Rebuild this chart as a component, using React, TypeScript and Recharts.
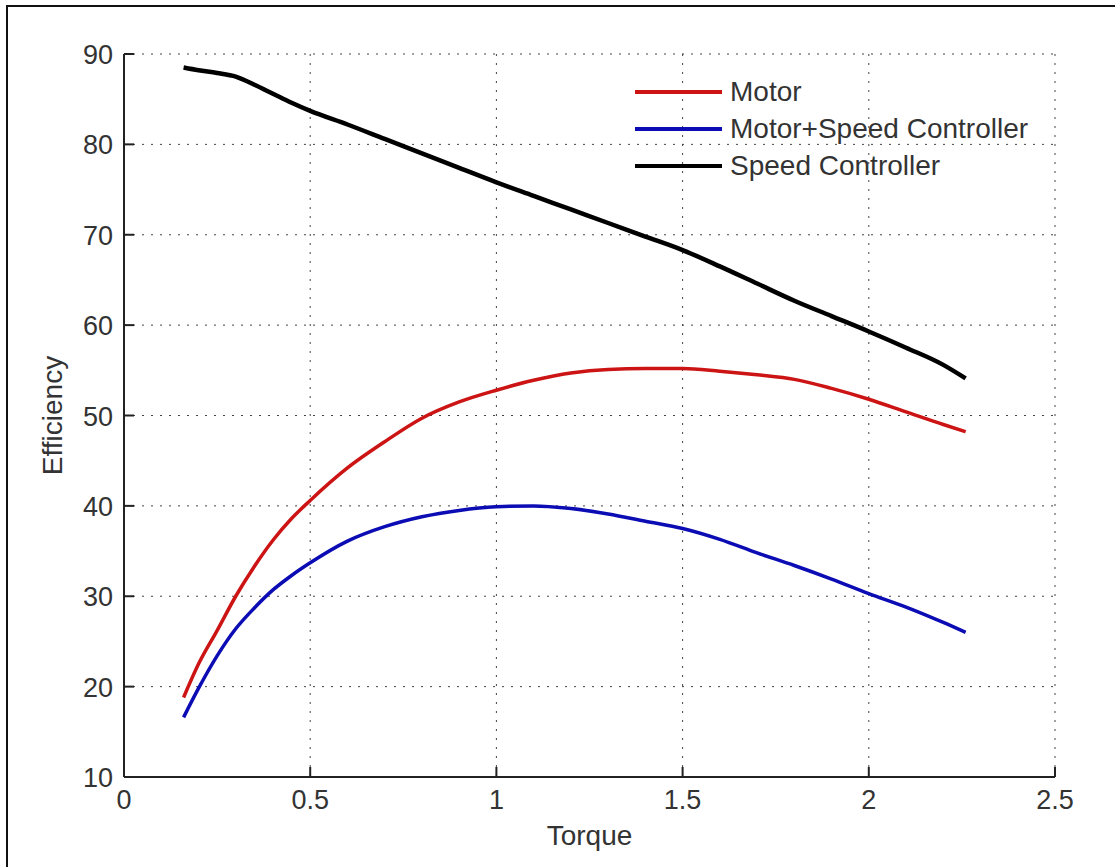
import { LineChart, Line, XAxis, YAxis, CartesianGrid } from 'recharts'

const torque = [
  0.16, 0.2, 0.25, 0.3, 0.35, 0.4, 0.45, 0.5, 0.6, 0.7, 0.8, 0.9, 1.0,
  1.1, 1.2, 1.3, 1.4, 1.5, 1.6, 1.7, 1.8, 1.9, 2.0, 2.1, 2.2, 2.26,
]

const motor = [
  18.8, 22.5, 26.2, 30.0, 33.3, 36.2, 38.6, 40.6, 44.2, 47.1, 49.7, 51.5, 52.8,
  53.9, 54.7, 55.1, 55.2, 55.2, 54.9, 54.5, 54.0, 53.0, 51.8, 50.4, 49.0, 48.2,
]

const motorSpeed = [
  16.6, 19.8, 23.4, 26.4, 28.7, 30.7, 32.3, 33.7, 36.1, 37.7, 38.8, 39.5, 39.9,
  40.0, 39.7, 39.1, 38.3, 37.5, 36.3, 34.8, 33.4, 31.9, 30.3, 28.8, 27.1, 26.0,
]

const speedController = [
  88.5, 88.2, 87.9, 87.5, 86.6, 85.6, 84.6, 83.7, 82.2, 80.6, 79.0, 77.4, 75.8,
  74.3, 72.8, 71.3, 69.8, 68.3, 66.5, 64.6, 62.7, 61.0, 59.3, 57.5, 55.6, 54.1,
]

const xTicks = [0, 0.5, 1, 1.5, 2, 2.5]
const yTicks = [10, 20, 30, 40, 50, 60, 70, 80, 90]

const series = [
  { key: 'motor', name: 'Motor', color: '#cc1414', width: 3.5 },
  { key: 'motorSpeed', name: 'Motor+Speed Controller', color: '#0c0cb4', width: 3.5 },
  { key: 'speed', name: 'Speed Controller', color: '#000000', width: 4.5 },
]

const data = torque.map((t, i) => ({
  torque: t,
  motor: motor[i],
  motorSpeed: motorSpeed[i],
  speed: speedController[i],
}))

const FONT = '"Liberation Sans", Arial, sans-serif'
const TEXT = '#333333'
const AXIS = '#222222'

function XTick(props: any) {
  const { x, y, payload } = props
  return (
    <g>
      <line x1={x} x2={x} y1={y} y2={y - 10} stroke={AXIS} strokeWidth={2} />
      <text x={x} y={y + 32} textAnchor="middle" fontSize={27} fill={TEXT} fontFamily={FONT}>
        {String(payload.value)}
      </text>
    </g>
  )
}

function YTick(props: any) {
  const { x, y, payload } = props
  return (
    <g>
      <line x1={x} x2={x + 10} y1={y} y2={y} stroke={AXIS} strokeWidth={2} />
      <text x={x - 11} y={y + 10} textAnchor="end" fontSize={27} fill={TEXT} fontFamily={FONT}>
        {String(payload.value)}
      </text>
    </g>
  )
}

// legend drawn as an overlay so it does not take room from the plot
function LegendBox() {
  return (
    <div style={{ position: 'absolute', left: 635, top: 73, fontFamily: FONT, fontSize: 28, color: TEXT }}>
      {series.map((s) => (
        <div key={s.key} style={{ display: 'flex', alignItems: 'center', height: 37 }}>
          <svg width={87} height={10} style={{ marginRight: 8 }}>
            <line x1={0} x2={87} y1={5} y2={5} stroke={s.color} strokeWidth={4} />
          </svg>
          <span style={{ lineHeight: '37px', whiteSpace: 'nowrap' }}>{s.name}</span>
        </div>
      ))}
    </div>
  )
}

export default function App() {
  return (
    <div style={{ position: 'absolute', left: 0, top: 0, width: 1118, height: 867, background: '#fff', overflow: 'hidden' }}>
      <div
        style={{
          position: 'absolute',
          left: 6,
          top: 5,
          width: 1107,
          height: 900,
          borderLeft: '2px solid #111',
          borderTop: '2px solid #111',
        }}
      />
      <LineChart
        width={1118}
        height={867}
        data={data}
        margin={{ top: 54, right: 63, bottom: 30, left: 24 }}
      >
        <CartesianGrid stroke="#444" strokeDasharray="2 7" strokeWidth={1} />
        <XAxis
          dataKey="torque"
          type="number"
          domain={[0, 2.5]}
          ticks={xTicks}
          height={60}
          tickSize={0}
          tickMargin={0}
          tickLine={false}
          axisLine={{ stroke: AXIS, strokeWidth: 2 }}
          tick={<XTick />}
          interval={0}
          label={{
            content: (p: any) => {
              const vb = p.viewBox
              return (
                <text x={vb.x + vb.width / 2} y={vb.y + 68} textAnchor="middle" fontSize={28} fill={TEXT} fontFamily={FONT}>
                  Torque
                </text>
              )
            },
          }}
        />
        <YAxis
          type="number"
          domain={[10, 90]}
          ticks={yTicks}
          width={100}
          tickSize={0}
          tickMargin={0}
          tickLine={false}
          axisLine={{ stroke: AXIS, strokeWidth: 2 }}
          tick={<YTick />}
          interval={0}
          label={{
            content: (p: any) => {
              const vb = p.viewBox
              const cy = vb.y + vb.height / 2
              return (
                <text x={62} y={cy} transform={`rotate(-90 62 ${cy})`} textAnchor="middle" fontSize={28} fill={TEXT} fontFamily={FONT}>
                  Efficiency
                </text>
              )
            },
          }}
        />
        {series.map((s) => (
          <Line
            key={s.key}
            type="monotone"
            dataKey={s.key}
            name={s.name}
            stroke={s.color}
            strokeWidth={s.width}
            dot={false}
            isAnimationActive={false}
          />
        ))}
      </LineChart>
      <LegendBox />
    </div>
  )
}
